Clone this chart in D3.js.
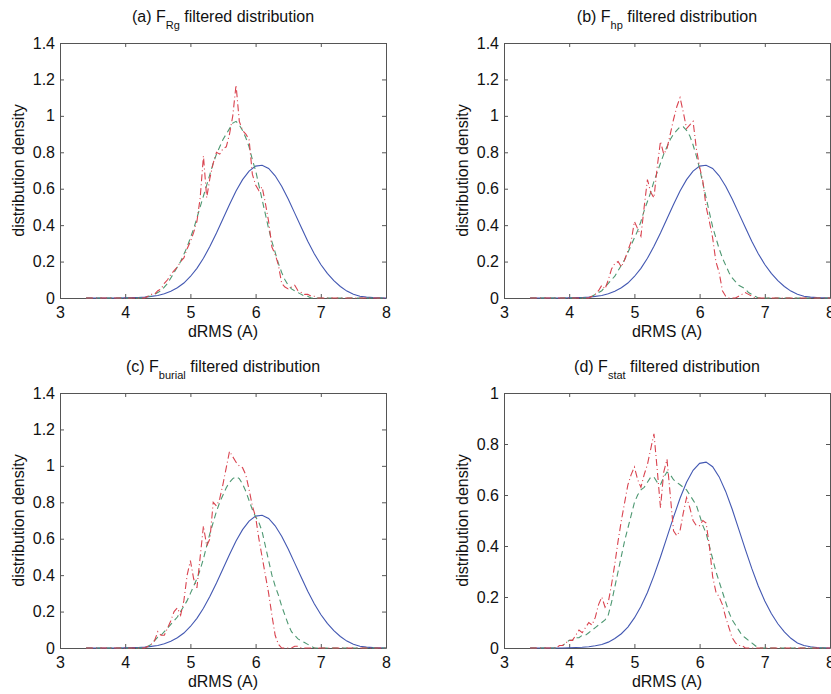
<!DOCTYPE html>
<html>
<head>
<meta charset="utf-8">
<script src="https://cdnjs.cloudflare.com/ajax/libs/d3/7.8.5/d3.min.js"></script>
<style>
  body { margin: 0; background: #fff; }
  svg text { font-family: "Liberation Sans", Arial, Helvetica, sans-serif; fill: #111; }
</style>
</head>
<body>
<svg id="chart" width="831" height="694"></svg>
<script>
// x grid of the smooth (solid blue) curve, 0.1 steps
const xBlue = [3.4, 3.5, 3.6, 3.7, 3.8, 3.9,
  4.0, 4.1, 4.2, 4.3, 4.4, 4.5, 4.6, 4.7, 4.8, 4.9,
  5.0, 5.1, 5.2, 5.3, 5.4, 5.5, 5.6, 5.7, 5.8, 5.9,
  6.0, 6.1, 6.2, 6.3, 6.4, 6.5, 6.6, 6.7, 6.8, 6.9,
  7.0, 7.1, 7.2, 7.3, 7.4, 7.5, 7.6, 7.7, 7.8, 7.9, 8.0];

// same reference curve in every panel
const blueRef = [0, 0, 0, 0, 0, 0,
  0.001, 0.002, 0.003, 0.005, 0.009, 0.014, 0.023, 0.037, 0.056, 0.082,
  0.118, 0.163, 0.218, 0.284, 0.357, 0.435, 0.513, 0.587, 0.650, 0.697,
  0.724, 0.729, 0.711, 0.671, 0.614, 0.544, 0.466, 0.388, 0.312, 0.243,
  0.184, 0.135, 0.095, 0.063, 0.038, 0.020, 0.010, 0.005, 0.002, 0.001, 0];

// x grid of the dashed (filtered) curves
const xDash = [3.4,
  3.8, 3.85, 3.9, 3.95, 4.0, 4.05, 4.1, 4.15, 4.2, 4.25,
  4.3, 4.35, 4.4, 4.45, 4.5, 4.55, 4.6, 4.65, 4.7, 4.75,
  4.8, 4.85, 4.9, 4.95, 5.0, 5.05, 5.1, 5.15, 5.2, 5.25,
  5.3, 5.35, 5.4, 5.45, 5.5, 5.55, 5.6, 5.65, 5.7, 5.75,
  5.8, 5.85, 5.9, 5.95, 6.0, 6.05, 6.1, 6.15, 6.2, 6.25,
  6.3, 6.35, 6.4, 6.45, 6.5, 6.55, 6.6, 6.65, 6.7, 6.75,
  6.8, 6.85, 6.9, 6.95, 7.0,
  8.0];

const greenA = [0,
  0, 0, 0, 0, 0, 0, 0, 0, 0, 0,
  0.00, 0.01, 0.01, 0.02, 0.03, 0.04, 0.06, 0.08, 0.11, 0.14,
  0.17, 0.20, 0.24, 0.28, 0.33, 0.38, 0.44, 0.50, 0.56, 0.62,
  0.68, 0.74, 0.79, 0.83, 0.87, 0.90, 0.93, 0.96, 0.97, 0.95,
  0.92, 0.88, 0.83, 0.76, 0.70, 0.62, 0.54, 0.46, 0.38, 0.31,
  0.25, 0.19, 0.14, 0.10, 0.07, 0.05, 0.04, 0.03, 0.02, 0.01,
  0.01, 0.00, 0.00, 0.00, 0.00,
  0];
const redA = [0,
  0, 0, 0, 0, 0, 0, 0, 0, 0, 0,
  0.00, 0.01, 0.02, 0.02, 0.04, 0.05, 0.08, 0.10, 0.13, 0.15,
  0.17, 0.20, 0.22, 0.27, 0.31, 0.36, 0.42, 0.55, 0.78, 0.55,
  0.66, 0.74, 0.80, 0.79, 0.82, 0.83, 0.90, 1.00, 1.17, 0.97,
  0.92, 0.90, 0.87, 0.68, 0.62, 0.59, 0.61, 0.52, 0.42, 0.28,
  0.24, 0.18, 0.08, 0.06, 0.05, 0.06, 0.07, 0.04, 0.03, 0.02,
  0.02, 0.01, 0.01, 0.00, 0.00,
  0];

const greenB = [0,
  0, 0, 0, 0, 0, 0, 0, 0, 0, 0,
  0.00, 0.01, 0.02, 0.03, 0.04, 0.06, 0.08, 0.10, 0.12, 0.15,
  0.18, 0.21, 0.25, 0.29, 0.33, 0.37, 0.42, 0.48, 0.53, 0.58,
  0.64, 0.69, 0.74, 0.79, 0.83, 0.87, 0.90, 0.92, 0.94, 0.94,
  0.92, 0.89, 0.84, 0.78, 0.71, 0.63, 0.55, 0.47, 0.39, 0.33,
  0.27, 0.22, 0.18, 0.14, 0.11, 0.09, 0.07, 0.06, 0.05, 0.03,
  0.02, 0.01, 0.00, 0.00, 0.00,
  0];
const redB = [0,
  0, 0, 0, 0, 0, 0, 0, 0, 0, 0,
  0.00, 0.01, 0.02, 0.04, 0.07, 0.05, 0.10, 0.16, 0.19, 0.20,
  0.17, 0.21, 0.26, 0.31, 0.42, 0.38, 0.34, 0.50, 0.65, 0.58,
  0.55, 0.72, 0.86, 0.79, 0.82, 0.90, 0.98, 1.05, 1.10, 1.02,
  0.93, 0.95, 0.97, 0.82, 0.72, 0.64, 0.50, 0.42, 0.33, 0.20,
  0.14, 0.04, 0.01, 0.00, 0.00, 0.00, 0.01, 0.02, 0.03, 0.02,
  0.01, 0.00, 0.00, 0.00, 0.00,
  0];

const greenC = [0,
  0, 0, 0, 0, 0, 0, 0, 0, 0, 0,
  0.00, 0.01, 0.02, 0.04, 0.06, 0.07, 0.09, 0.11, 0.13, 0.15,
  0.17, 0.20, 0.23, 0.26, 0.30, 0.34, 0.38, 0.43, 0.49, 0.56,
  0.63, 0.69, 0.75, 0.80, 0.84, 0.88, 0.91, 0.93, 0.94, 0.93,
  0.90, 0.86, 0.81, 0.76, 0.72, 0.69, 0.64, 0.56, 0.48, 0.40,
  0.34, 0.29, 0.23, 0.18, 0.13, 0.09, 0.07, 0.05, 0.04, 0.03,
  0.02, 0.01, 0.00, 0.00, 0.00,
  0];
const redC = [0,
  0, 0, 0, 0, 0, 0, 0, 0, 0, 0,
  0.00, 0.01, 0.02, 0.04, 0.09, 0.07, 0.07, 0.11, 0.15, 0.20,
  0.22, 0.18, 0.26, 0.40, 0.48, 0.38, 0.33, 0.50, 0.67, 0.56,
  0.60, 0.80, 0.78, 0.82, 0.90, 0.99, 1.08, 1.05, 1.02, 1.00,
  0.99, 0.95, 0.87, 0.78, 0.72, 0.60, 0.50, 0.40, 0.30, 0.18,
  0.07, 0.02, 0.00, 0.00, 0.00, 0.00, 0.01, 0.01, 0.00, 0.00,
  0.00, 0.00, 0.00, 0.00, 0.00,
  0];

const greenD = [0,
  0.00, 0.01, 0.01, 0.02, 0.03, 0.03, 0.04, 0.04, 0.05, 0.05,
  0.06, 0.07, 0.08, 0.09, 0.10, 0.11, 0.13, 0.18, 0.24, 0.30,
  0.36, 0.42, 0.47, 0.52, 0.57, 0.60, 0.62, 0.63, 0.65, 0.67,
  0.67, 0.65, 0.64, 0.67, 0.69, 0.68, 0.66, 0.65, 0.64, 0.63,
  0.62, 0.60, 0.58, 0.56, 0.52, 0.48, 0.45, 0.40, 0.35, 0.30,
  0.26, 0.22, 0.18, 0.14, 0.11, 0.09, 0.07, 0.05, 0.04, 0.03,
  0.02, 0.01, 0.00, 0.00, 0.00,
  0];
const redD = [0,
  0.00, 0.01, 0.01, 0.02, 0.03, 0.03, 0.05, 0.07, 0.06, 0.08,
  0.10, 0.09, 0.12, 0.17, 0.20, 0.16, 0.18, 0.25, 0.33, 0.42,
  0.50, 0.57, 0.64, 0.68, 0.71, 0.66, 0.63, 0.68, 0.72, 0.78,
  0.84, 0.70, 0.55, 0.69, 0.74, 0.60, 0.46, 0.44, 0.46, 0.53,
  0.59, 0.55, 0.50, 0.48, 0.48, 0.50, 0.49, 0.40, 0.28, 0.22,
  0.20, 0.17, 0.12, 0.08, 0.04, 0.02, 0.01, 0.01, 0.00, 0.00,
  0.00, 0.00, 0.00, 0.00, 0.00,
  0];

// tick labels
const xTicks = [3, 4, 5, 6, 7, 8];
const yTicksTall = [0, 0.2, 0.4, 0.6, 0.8, 1, 1.2, 1.4];
const yTicksShort = [0, 0.2, 0.4, 0.6, 0.8, 1];

const titleHeads = ["(a) F", "(b) F", "(c) F", "(d) F"];
const titleSubs = ["Rg", "hp", "burial", "stat"];
const titleTail = " filtered distribution";
const xLabel = "dRMS (A)";
const yLabel = "distribution density";

const blueColor = "#4358b2";
const greenColor = "#4e9872";
const redColor = "#d9434f";

const plotW = 326, plotH = 255;

const panels = [
  { left: 60,  top: 43,  green: greenA, red: redA, yMax: 1.4, yTicks: yTicksTall },
  { left: 504, top: 43,  green: greenB, red: redB, yMax: 1.4, yTicks: yTicksTall },
  { left: 60,  top: 393, green: greenC, red: redC, yMax: 1.4, yTicks: yTicksTall },
  { left: 504, top: 393, green: greenD, red: redD, yMax: 1,   yTicks: yTicksShort }
];

const svg = d3.select("#chart");

function styleAxis(g){
    g.select(".domain").attr("stroke", "#555").attr("stroke-width", 1);
    g.selectAll(".tick line").attr("stroke", "#555");
    g.selectAll(".tick text").style("font-size", "16px").attr("fill", "#111");
}

function drawPanel(p, i){
    let g = svg.append("g").attr("transform", "translate(" + p.left + "," + p.top + ")");

    let x = d3.scaleLinear().domain([3, 8]).range([0, plotW]);
    let y = d3.scaleLinear().domain([0, p.yMax]).range([plotH, 0]);

    // box with inward ticks on all four sides (matlab style)
    g.append("g")
        .attr("transform", "translate(0," + plotH + ")")
        .call(d3.axisBottom(x).tickValues(xTicks).tickFormat(d => d).tickSizeInner(-4).tickSizeOuter(0).tickPadding(9))
        .call(styleAxis);
    g.append("g")
        .call(d3.axisTop(x).tickValues(xTicks).tickFormat("").tickSizeInner(-4).tickSizeOuter(0))
        .call(styleAxis);
    g.append("g")
        .call(d3.axisLeft(y).tickValues(p.yTicks).tickFormat(d => d).tickSizeInner(-4).tickSizeOuter(0).tickPadding(5))
        .call(styleAxis);
    g.append("g")
        .attr("transform", "translate(" + plotW + ",0)")
        .call(d3.axisRight(y).tickValues(p.yTicks).tickFormat("").tickSizeInner(-4).tickSizeOuter(0))
        .call(styleAxis);

    let line = d3.line()
        .x(d => x(d[0]))
        .y(d => y(d[1]));

    g.append("path")
        .datum(xBlue.map((v, k) => [v, blueRef[k]]))
        .attr("d", line)
        .attr("fill", "none")
        .attr("stroke", blueColor)
        .attr("stroke-width", 1.1);

    g.append("path")
        .datum(xDash.map((v, k) => [v, p.green[k]]))
        .attr("d", line)
        .attr("fill", "none")
        .attr("stroke", greenColor)
        .attr("stroke-width", 1.1)
        .attr("stroke-dasharray", "6,4");

    // red is dash-dot
    g.append("path")
        .datum(xDash.map((v, k) => [v, p.red[k]]))
        .attr("d", line)
        .attr("fill", "none")
        .attr("stroke", redColor)
        .attr("stroke-width", 1.1)
        .attr("stroke-dasharray", "7,3,1,3");

    // title with subscript
    let title = g.append("text")
        .attr("x", plotW / 2)
        .attr("y", -21)
        .attr("text-anchor", "middle")
        .style("font-size", "16px");
    title.append("tspan").text(titleHeads[i]);
    title.append("tspan").attr("dy", 7).style("font-size", "11px").text(titleSubs[i]);
    title.append("tspan").attr("dy", -7).text(titleTail);

    g.append("text")
        .attr("x", plotW / 2)
        .attr("y", plotH + 39)
        .attr("text-anchor", "middle")
        .style("font-size", "16px")
        .text(xLabel);

    g.append("text")
        .attr("transform", "translate(-36," + (plotH / 2) + ") rotate(-90)")
        .attr("text-anchor", "middle")
        .style("font-size", "16px")
        .text(yLabel);
}

panels.forEach(drawPanel);
</script>
</body>
</html>
